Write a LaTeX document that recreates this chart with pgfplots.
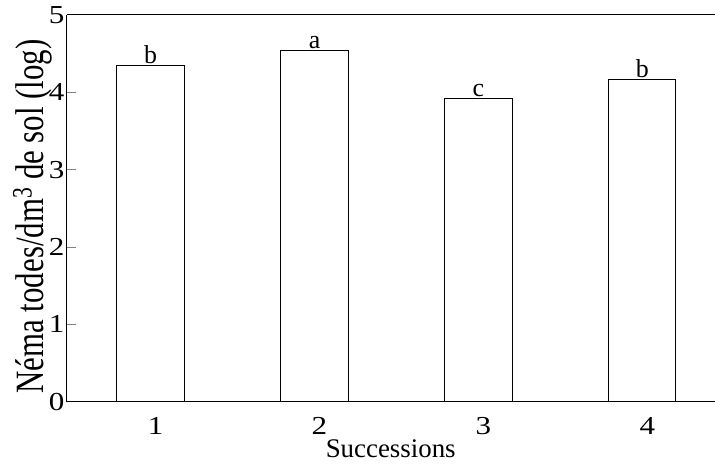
\documentclass[border=0pt]{standalone}
\usepackage{fontspec}
\setmainfont{Liberation Serif}
\newfontfamily\tickfont{Liberation Serif}[FakeStretch=1.2]
\usepackage{graphicx}
\usepackage{pgfplots}
\pgfplotsset{compat=1.18}
\begin{document}
\begin{tikzpicture}
\begin{axis}[
  scale only axis,
  width=648bp, height=387bp,
  xmin=0.49, xmax=4.44,
  ymin=0, ymax=5,
  axis lines=left,
  axis line style={-, line width=1pt},
  clip=false,
  ybar, bar width=0.41,
  xtick={1,2,3,4},
  xtick style={draw=none},
  ytick={0,1,2,3,4,5},
  ytick style={line width=1pt},
  tick align=inside,
  major tick length=9bp,
  /pgf/number format/assume math mode=true,
  tick label style={font=\fontsize{26}{26}\tickfont},
  xticklabel style={xshift=5bp, yshift=-12bp},
  yticklabel style={xshift=1bp},
  xlabel={Successions},
  xlabel style={font=\fontsize{27}{27}\rmfamily, yshift=2bp},
  ylabel={\scalebox{1}[1.3]{Néma todes/dm\textsuperscript{3} de sol (log)}},
  ylabel style={font=\fontsize{31}{31}\rmfamily, yshift=-10bp, xshift=-8bp},
  nodes near coords=\pgfplotspointmeta,
  point meta=explicit symbolic,
  every node near coord/.append style={font=\fontsize{26}{26}\rmfamily, inner sep=0pt, yshift=1bp, anchor=south},
]
\addplot[draw=black, fill=white, line width=1pt] coordinates {
  (1,4.35) [b]
  (2,4.54) [a]
  (3,3.92) [c]
  (4,4.17) [b]
};
\draw[line width=1pt] (rel axis cs:0,1) -- (rel axis cs:1,1);
\path (rel axis cs:0,0) ++(-67bp,-66bp) coordinate (bl);
\path (rel axis cs:1,1) ++(0,15bp) coordinate (tr);
\path (bl) -- (tr);
\end{axis}
\end{tikzpicture}
\end{document}
